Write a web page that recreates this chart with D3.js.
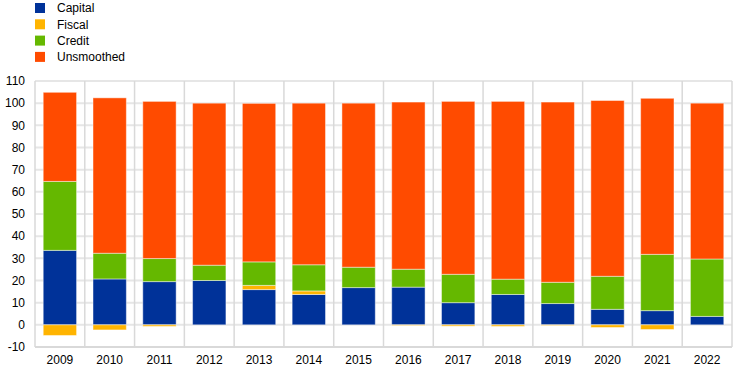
<!DOCTYPE html>
<html>
<head>
<meta charset="utf-8">
<script src="https://cdn.jsdelivr.net/npm/d3@7"></script>
<style>
  html, body { margin: 0; padding: 0; background: #fff; }
  svg { display: block; font-family: "Liberation Sans", Arial, sans-serif; }
</style>
</head>
<body>
<svg id="chart" width="744" height="373"></svg>
<script>
const years = ["2009","2010","2011","2012","2013","2014","2015","2016","2017","2018","2019","2020","2021","2022"];
const capital    = [33.6, 20.7, 19.5, 20.0, 15.9, 13.7, 16.8, 17.0, 10.0, 13.7, 9.6, 7.0, 6.4, 3.8];
const fiscal     = [-4.8, -2.3, -0.7, 0.0, 1.9, 1.6, 0.0, -0.3, -0.6, -0.7, -0.3, -1.2, -2.1, 0.0];
const credit     = [31.1, 11.6, 10.4, 6.9, 10.6, 11.8, 9.2, 8.1, 12.8, 6.9, 9.6, 14.9, 25.4, 25.9];
const unsmoothed = [40.2, 70.1, 70.9, 73.1, 71.5, 72.9, 74.0, 75.4, 78.0, 80.2, 81.3, 79.3, 70.4, 70.3];
const yTicks = [-10, 0, 10, 20, 30, 40, 50, 60, 70, 80, 90, 100, 110];

const seriesNames = ["Capital", "Fiscal", "Credit", "Unsmoothed"];
const seriesColors = ["#003299", "#ffb400", "#65b800", "#ff4b00"];

const table = years.map((y, i) => ({
  year: y, Capital: capital[i], Fiscal: fiscal[i], Credit: credit[i], Unsmoothed: unsmoothed[i]
}));

const svg = d3.select("#chart");
const margin = { left: 35, right: 12, top: 81, bottom: 26 };
const W = 744, H = 373;

const x = d3.scaleBand().domain(years).range([margin.left, W - margin.right]).paddingInner(0.33).paddingOuter(0.165);
const y = d3.scaleLinear().domain([-10, 110]).range([H - margin.bottom, margin.top]);

// grid
const grid = svg.append("g");
grid.selectAll("line.h").data(yTicks).join("line")
  .attr("x1", margin.left).attr("x2", W - margin.right)
  .attr("y1", d => y(d)).attr("y2", d => y(d))
  .attr("stroke", "#e6e6e6").attr("stroke-width", 2);

const step = x.step();
const bounds = d3.range(years.length + 1).map(i => margin.left + i * step);
grid.selectAll("line.v").data(bounds).join("line")
  .attr("x1", d => d).attr("x2", d => d)
  .attr("y1", y(110)).attr("y2", y(-10))
  .attr("stroke", "#d9d9d9").attr("stroke-width", 1.5);

grid.append("line")
  .attr("x1", margin.left).attr("x2", W - margin.right)
  .attr("y1", y(-10)).attr("y2", y(-10))
  .attr("stroke", "#d9d9d9").attr("stroke-width", 2);

// stack
const stack = d3.stack().keys(seriesNames).offset(d3.stackOffsetDiverging);
const stacked = stack(table);

svg.append("g").selectAll("g").data(stacked).join("g")
  .attr("fill", (d, i) => seriesColors[i])
  .selectAll("rect").data(d => d).join("rect")
  .attr("x", d => x(d.data.year))
  .attr("width", x.bandwidth())
  .attr("y", d => y(Math.max(d[0], d[1])))
  .attr("height", d => Math.abs(y(d[0]) - y(d[1])))
  .attr("stroke", "rgba(255,255,255,0.45)")
  .attr("stroke-width", 1);

// y axis labels
svg.append("g").selectAll("text").data(yTicks).join("text")
  .attr("x", 25).attr("y", d => y(d)).attr("dy", "0.35em")
  .attr("text-anchor", "end").attr("font-size", 12).attr("fill", "#000")
  .text(d => d);

// x axis labels
svg.append("g").selectAll("text").data(years).join("text")
  .attr("x", d => x(d) + x.bandwidth() / 2).attr("y", 364)
  .attr("text-anchor", "middle").attr("font-size", 12).attr("fill", "#000")
  .text(d => d);

// legend
const leg = svg.append("g").selectAll("g").data(seriesNames).join("g")
  .attr("transform", (d, i) => `translate(35, ${8 + i * 16.3})`);
leg.append("rect").attr("x", 0).attr("y", -5).attr("width", 10).attr("height", 10)
  .attr("fill", (d, i) => seriesColors[i]);
leg.append("text").attr("x", 22).attr("y", 0).attr("dy", "0.35em")
  .attr("font-size", 12).attr("fill", "#000").text(d => d);
</script>
</body>
</html>
